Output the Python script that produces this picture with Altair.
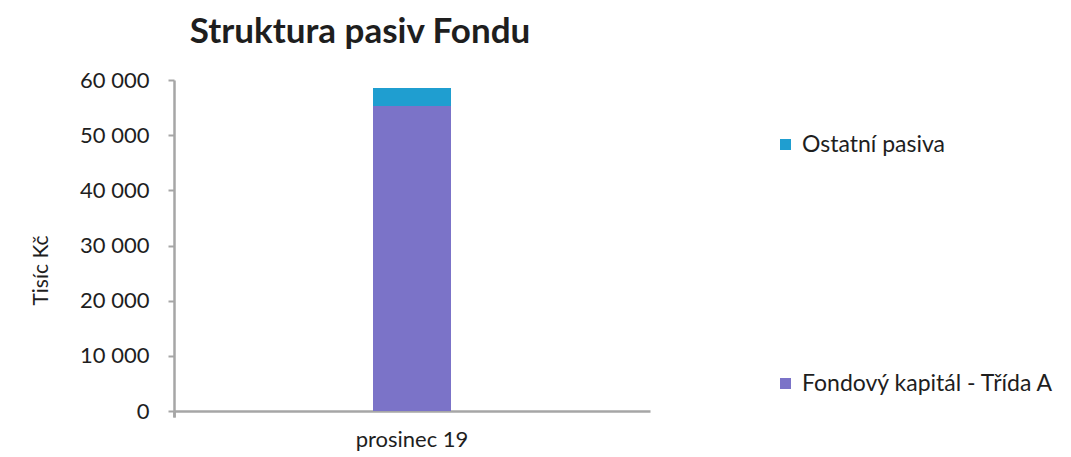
import altair as alt
import pandas as pd

categories = ["prosinec 19"]
series = ["Ostatní pasiva", "Fondový kapitál - Třída A"]
ostatni = [3250]
fondovy = [55300]
colors = ["#1f9ed0", "#7b73c8"]

rows = []
for i, c in enumerate(categories):
    rows.append({"mesic": c, "serie": series[1], "hodnota": fondovy[i], "poradi": 0})
    rows.append({"mesic": c, "serie": series[0], "hodnota": ostatni[i], "poradi": 1})
df = pd.DataFrame(rows)

FONT = "Lato"
TXT = "#1e1e1e"

chart = alt.Chart(df).mark_bar(size=78).encode(
    x=alt.X("mesic:N", title=None,
            scale=alt.Scale(paddingInner=0, paddingOuter=0),
            axis=alt.Axis(labelAngle=0, labelFontSize=22, labelColor=TXT,
                          labelFont=FONT, labelPadding=12, domainColor="#a6a6a6",
                          domainWidth=2.5, ticks=True, bandPosition=0, tickExtra=True,
                          grid=False,
                          tickColor="#a6a6a6", tickWidth=2.5, tickSize=6)),
    y=alt.Y("hodnota:Q", stack="zero",
            scale=alt.Scale(domain=[0, 60000]),
            axis=alt.Axis(values=[0, 10000, 20000, 30000, 40000, 50000, 60000],
                          labelExpr="replace(format(datum.value, ','), ',', ' ')",
                          grid=False, labelFontSize=22, labelFont=FONT,
                          labelColor=TXT, labelPadding=19,
                          domainColor="#a6a6a6", domainWidth=2.5,
                          tickColor="#a6a6a6", tickWidth=2, tickSize=6,
                          title="Tisíc Kč", titleFont=FONT, titleFontSize=21,
                          titleFontWeight="normal", titleColor=TXT,
                          titleAngle=270, titleX=-133, titleY=190,
                          titleAlign="center", titleBaseline="middle")),
    color=alt.Color("serie:N", scale=alt.Scale(domain=series, range=colors),
                    legend=alt.Legend(title=None, orient="none", legendX=600, legendY=53,
                                      symbolType="square", symbolSize=121,
                                      symbolStrokeWidth=0, labelFontSize=23,
                                      labelFont=FONT, labelColor=TXT, labelLimit=400,
                                      labelOffset=5, rowPadding=215)),
    order=alt.Order("poradi:Q"),
).properties(
    width=476,
    height=331,
    background="white",
    view=alt.ViewBackground(stroke="transparent", strokeWidth=0, strokeOpacity=0),
    autosize=alt.AutoSizeParams(type="none"),
    padding={"left": 166, "top": 72, "right": 413, "bottom": 45},
    title=alt.Title("Struktura pasiv Fondu", font=FONT, fontSize=35, fontWeight="bold",
                    color=TXT, anchor="middle", frame="group", dx=-52, offset=19),
).configure_view(
    strokeWidth=0, stroke="transparent", strokeOpacity=0
).configure_axis(
    grid=False
)

chart.save("out.html", embed_options={"renderer": "svg", "actions": False})
